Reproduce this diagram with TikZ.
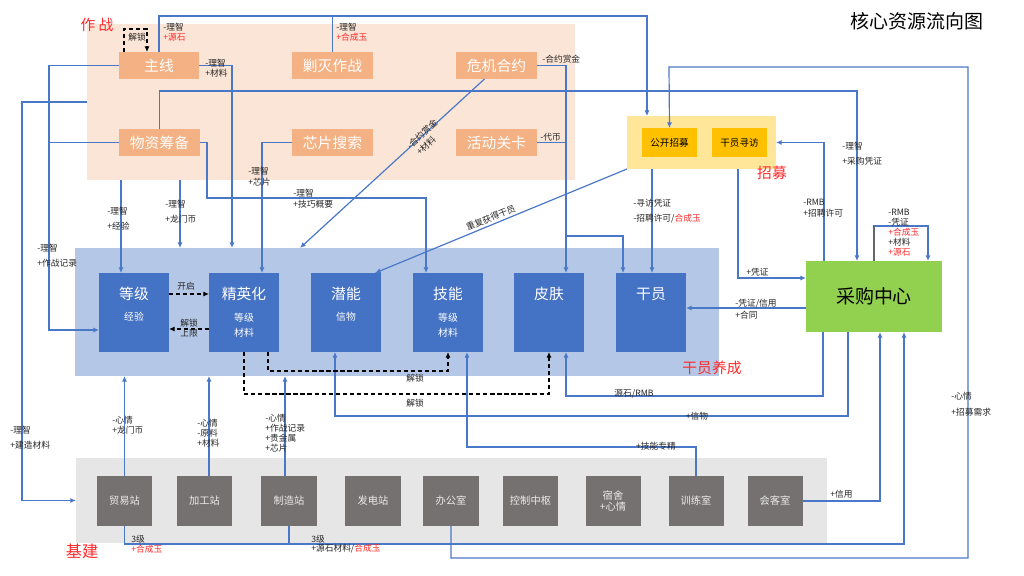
\documentclass[tikz,border=0pt]{standalone}
\usepackage{fontspec}
\setmainfont{Noto Sans CJK SC}
\usetikzlibrary{arrows.meta}
\definecolor{peach}{HTML}{FBE5D6}
\definecolor{apricot}{HTML}{F4B183}
\definecolor{cream}{HTML}{FFE699}
\definecolor{amber}{HTML}{FFC000}
\definecolor{paleblue}{HTML}{B4C7E7}
\definecolor{royal}{HTML}{4472C4}
\definecolor{leaf}{HTML}{92D050}
\definecolor{mist}{HTML}{E7E6E6}
\definecolor{slate}{HTML}{767171}
\definecolor{wire}{HTML}{4A78C8}
\definecolor{alert}{HTML}{FF2A2A}
\begin{document}
\begin{tikzpicture}[x=0.025cm, y=-0.025cm,
  zone/.style={inner sep=0, outer sep=0},
  task/.style={fill=apricot, text=white, minimum width=2cm, minimum height=0.675cm, inner sep=0, outer sep=0, font=\fontsize{10.5}{12}\selectfont},
  hire/.style={fill=amber, minimum width=1.375cm, minimum height=0.725cm, inner sep=0, outer sep=0, font=\fontsize{6.8}{8}\selectfont},
  unit/.style={fill=royal, minimum width=1.75cm, minimum height=1.975cm, inner sep=0, outer sep=0},
  ttl/.style={text=white, inner sep=0, font=\fontsize{10.5}{12}\selectfont},
  sub/.style={text=white, inner sep=0, align=center, font=\fontsize{7}{10.7}\selectfont},
  room/.style={fill=slate, text=white!92!black, minimum width=1.375cm, minimum height=1.25cm, inner sep=0, outer sep=0, align=center, font=\fontsize{7.3}{8}\selectfont},
  lab/.style={anchor=west, inner sep=0, text=black!85, font=\fontsize{6.2}{7}\selectfont},
  tag/.style={text=alert, inner sep=0, font=\fontsize{10.5}{12}\selectfont},
  flow/.style={draw=wire, line width=0.85pt, -{Latex[length=4pt,width=3.6pt]}},
  link/.style={draw=wire, line width=0.85pt},
  unlock/.style={draw=black, line width=0.8pt, dash pattern=on 3pt off 2pt, -{Latex[length=4pt,width=3.6pt]}}]

\fill[white] (0,0) rectangle (1024,576);
\useasboundingbox (0,0) rectangle (1024,576);

\node[zone, fill=peach, minimum width=12.2cm, minimum height=3.9cm] (zz) at (331,102) {};
\node[zone, fill=cream, minimum width=3.725cm, minimum height=1.325cm] (zm) at (701.5,142.5) {};
\node[zone, fill=paleblue, minimum width=16.1cm, minimum height=3.2cm] (yc) at (397,312) {};
\node[zone, fill=mist, minimum width=18.775cm, minimum height=2.125cm] (jj) at (451.5,500.5) {};

\node[task] (zx) at (159,65.5) {主线};
\node[task] (jm) at (332.5,65.5) {剿灭作战};
\node[task] (wj) at (496.5,65.5) {危机合约};
\node[task] (wz) at (159.5,142.5) {物资筹备};
\node[task] (xp) at (332.5,142.5) {芯片搜索};
\node[task] (hd) at (496.5,142.5) {活动关卡};

\node[hire] (gk) at (669.5,142.5) {公开招募};
\node[hire] (xf) at (739.5,142.5) {干员寻访};

\node[unit] (lv) at (134,312.5) {};
\node[unit] (jy) at (244,312.5) {};
\node[unit] (qn) at (346,312.5) {};
\node[unit] (jn) at (448,312.5) {};
\node[unit] (pf) at (549,312.5) {};
\node[unit] (gy) at (651,312.5) {};
\node[ttl] at (134,294) {等级};
\node[ttl] at (244,294) {精英化};
\node[ttl] at (346,294) {潜能};
\node[ttl] at (448,294) {技能};
\node[ttl] at (549,294) {皮肤};
\node[ttl] at (651,294) {干员};
\node[sub] at (134,317) {经验};
\node[sub] at (244,325.5) {等级\\材料};
\node[sub] at (346,317) {信物};
\node[sub] at (448,325.5) {等级\\材料};

\node[zone, fill=leaf, minimum width=3.4cm, minimum height=1.775cm, font=\fontsize{13.5}{16}\selectfont] (cg) at (874,296.5) {采购中心};

\node[room] (my) at (124.5,501) {贸易站};
\node[room] (jg) at (204.5,501) {加工站};
\node[room] (zs) at (289,501) {制造站};
\node[room] (fd) at (373,501) {发电站};
\node[room] (bg) at (451,501) {办公室};
\node[room] (kz) at (530.5,501) {控制中枢};
\node[room] (ss) at (613,501) {宿舍\\+心情};
\node[room] (xl) at (696,501) {训练室};
\node[room] (hk) at (775,501) {会客室};

\node[tag] at (97,25) {作 战};
\node[tag] at (772,173) {招募};
\node[tag] at (712,368) {干员养成};
\node[tag, font=\fontsize{11.5}{13}\selectfont] at (82,551) {基建};
\node[inner sep=0, font=\fontsize{13.5}{16}\selectfont] at (917,21) {核心资源流向图};

\draw[flow] (zx.north) |- (647,16) -- (647,0 |- zm.north);
\draw[link] (jm.north) -- (jm.north |- 0,16);
\draw[unlock] ([xshift=0.125cm]zx.north west) |- (147,29) -- (147,0 |- zx.north);
\draw[flow] (zx.east) -| (232,0 |- yc.north);
\draw[flow] (zx.west) -| (49,330) -- (lv.west |- 0,330);
\draw[link] (wz.west) -- (49,0 |- wz.west);
\draw[flow] (zz.west) -| (22,0 |- jj.west) -- (jj.west);
\draw[flow] (wz.north) |- (857,91) -- (857,0 |- cg.north);
\draw[flow] (121,0 |- zz.south) -- (121,0 |- lv.north);
\draw[flow] (180,0 |- zz.south) -- (180,0 |- yc.north);
\draw[flow] (wz.east) -| (207,198) -| (426,0 |- jn.north);
\draw[flow] (xp.west) -| (262,0 |- jy.north);
\draw[flow] ([xshift=-0.3cm]wj.south) -- (300,0 |- yc.north);
\draw[flow] (wj.east) -| (566,0 |- pf.north);
\draw[link] (hd.east) -- (566,0 |- hd.east);
\draw[flow] (566,236) -| (623,0 |- gy.north);
\draw[flow] (652,0 |- zm.south) -- (652,0 |- gy.north);
\draw[flow] (zm.south west) -- node[lab, sloped, pos=0.53, anchor=south, inner sep=1.5pt] {重复获得干员} (375,0 |- qn.north);
\draw[flow] (738,0 |- zm.south) |- (cg.west |- 0,278);
\draw[flow] (824,0 |- cg.north) |- (zm.east);
\draw[flow] (874,0 |- cg.north) |- (928,226) -- (928,0 |- cg.north);
\draw[line width=0.85pt, black!60] (874,0 |- cg.north) -- (874,226);
\draw[flow] (bg.south) |- (968,558) |- (669,67) -- (gk.north);
\draw[flow] (cg.west |- 0,308) -- (gy.east |- 0,308);
\draw[flow] (823,0 |- cg.south) |- (566,396) -- (566,0 |- pf.south);
\draw[flow] (848,0 |- cg.south) |- (335,416) -- (335,0 |- qn.south);
\draw[flow] (hk.east) -| (880,0 |- cg.south);
\draw[flow] (my.south) |- (904,544) -- (904,0 |- cg.south);
\draw[link] (zs.south) -- (zs.south |- 0,544);
\draw[flow] (xl.north) |- (467,447) -- (467,0 |- jn.south);
\draw[unlock] (268,0 |- jy.south) |- (448,371) -- (jn.south);
\draw[unlock] (244,0 |- jy.south) |- (549,394) -- (pf.south);
\draw[unlock] (lv.east |- 0,294) -- (jy.west |- 0,294);
\draw[unlock] (jy.west |- 0,329) -- (lv.east |- 0,329);
\draw[flow] (my.north) -- (my.north |- yc.south);
\draw[flow] (209,0 |- jg.north) -- (209,0 |- yc.south);
\draw[flow] (285,0 |- zs.north) -- (285,0 |- yc.south);

\node[lab, anchor=center, rotate=42.5] at (422,134) {-合约赏金};
\node[lab, anchor=center, rotate=42.5] at (426,146) {+材料};
\node[lab] at (163,27) {-理智};
\node[lab, text=alert] at (163,37) {+源石};
\node[lab] at (336,27) {-理智};
\node[lab, text=alert] at (336,37) {+合成玉};
\node[lab] at (128,37) {解锁};
\node[lab] at (205,63) {-理智};
\node[lab] at (205,73) {+材料};
\node[lab] at (37,248) {-理智};
\node[lab] at (37,263) {+作战记录};
\node[lab] at (107,211) {-理智};
\node[lab] at (107,226) {+经验};
\node[lab] at (165,204) {-理智};
\node[lab] at (165,219) {+龙门币};
\node[lab] at (248,171) {-理智};
\node[lab] at (248,182) {+芯片};
\node[lab] at (293,193) {-理智};
\node[lab] at (293,204) {+技巧概要};
\node[lab] at (542,59) {-合约赏金};
\node[lab] at (540,137) {-代币};
\node[lab] at (633,203) {-寻访凭证};
\node[lab] at (633,219) {-招聘许可/\textcolor{alert}{合成玉}};
\node[lab] at (842,146) {-理智};
\node[lab] at (842,161) {+采购凭证};
\node[lab] at (803,202) {-RMB};
\node[lab] at (803,213) {+招聘许可};
\node[lab] at (888,212) {-RMB};
\node[lab] at (888,222) {-凭证};
\node[lab, text=alert] at (888,232) {+合成玉};
\node[lab] at (888,242) {+材料};
\node[lab, text=alert] at (888,252) {+源石};
\node[lab] at (746,272) {+凭证};
\node[lab] at (735,304) {-凭证/信用};
\node[lab] at (735,315) {+合同};
\node[lab, anchor=center] at (186,286) {开启};
\node[lab, anchor=center, align=center, font=\fontsize{6.2}{7.3}\selectfont] at (189,328) {解锁\\上限};
\node[lab, anchor=center] at (415,378) {解锁};
\node[lab, anchor=center] at (415,403) {解锁};
\node[lab, anchor=center] at (634,394) {源石/RMB};
\node[lab, anchor=center] at (697,416) {+信物};
\node[lab, anchor=center] at (656,446) {+技能专精};
\node[lab] at (10,430) {-理智};
\node[lab] at (10,445) {+建造材料};
\node[lab] at (112,420) {-心情};
\node[lab] at (112,430) {+龙门币};
\node[lab] at (197,423) {-心情};
\node[lab] at (197,433) {-原料};
\node[lab] at (197,443) {+材料};
\node[lab] at (265,418) {-心情};
\node[lab] at (265,428) {+作战记录};
\node[lab] at (265,438) {+贵金属};
\node[lab] at (265,448) {+芯片};
\node[lab] at (131,539) {3级};
\node[lab, text=alert] at (131,549) {+合成玉};
\node[lab] at (311,539) {3级};
\node[lab] at (311,549) {+源石材料/\textcolor{alert}{合成玉}};
\node[lab] at (830,494) {+信用};
\node[lab] at (951,396) {-心情};
\node[lab] at (951,412) {+招募需求};
\end{tikzpicture}
\end{document}
